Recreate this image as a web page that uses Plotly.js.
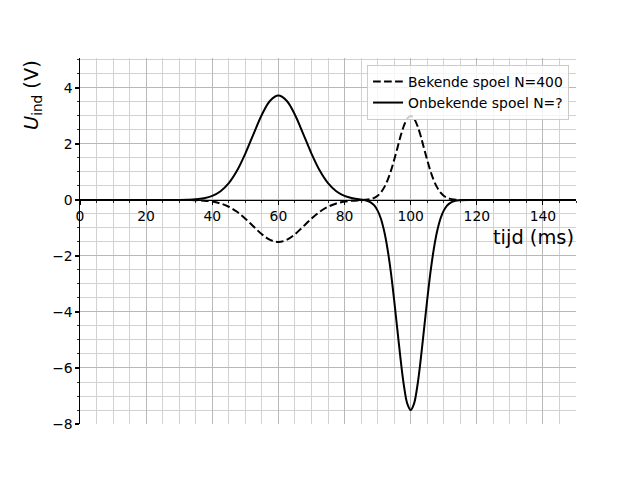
<!DOCTYPE html>
<html>
<head>
<meta charset="utf-8">
<script src="https://cdn.plot.ly/plotly-3.0.1.min.js"></script>
<style>html,body{margin:0;padding:0;background:#fff;}#chart{width:640px;height:480px;}</style>
</head>
<body>
<div id="chart"></div>
<script>
// time (ms)
const tijd = [0, 10, 20, 25, 30, 32.5, 35, 37.5, 40, 42.5, 45, 47.5, 50, 52.5, 55, 57.5, 60,
  62.5, 65, 67.5, 70, 72.5, 75, 77.5, 80, 82.5, 85,
  86, 87, 88, 89, 90, 91, 92, 93, 94, 95, 96, 97, 98, 99, 100,
  101, 102, 103, 104, 105, 106, 107, 108, 109, 110, 111, 112, 113, 114, 115,
  117.5, 120, 130, 140, 150];

// Bekende spoel N=400 (dashed)
const bekende = [0, 0, 0, 0, -0.001, -0.003, -0.009, -0.025, -0.058, -0.125, -0.242, -0.422, -0.666, -0.95, -1.224, -1.426, -1.5,
  -1.426, -1.224, -0.95, -0.666, -0.422, -0.242, -0.125, -0.058, -0.025, -0.009,
  0.004, 0.016, 0.037, 0.078, 0.15, 0.27, 0.45, 0.70, 1.03, 1.43, 1.86, 2.30, 2.66, 2.91, 3.0,
  2.91, 2.66, 2.30, 1.86, 1.43, 1.03, 0.70, 0.45, 0.27, 0.15, 0.08, 0.04, 0.02, 0.01, 0,
  0, 0, 0, 0, 0];

// Onbekende spoel N=? (solid)
const onbekende = [0, 0, 0, 0, 0.0025, 0.008, 0.023, 0.061, 0.145, 0.311, 0.601, 1.05, 1.657, 2.363, 3.045, 3.545, 3.73,
  3.545, 3.045, 2.363, 1.657, 1.05, 0.601, 0.311, 0.145, 0.061, 0.013,
  -0.005, -0.04, -0.094, -0.196, -0.38, -0.67, -1.12, -1.75, -2.57, -3.57, -4.66, -5.74, -6.66, -7.28, -7.5,
  -7.28, -6.66, -5.74, -4.66, -3.57, -2.57, -1.75, -1.12, -0.67, -0.38, -0.20, -0.10, -0.05, -0.02, -0.01,
  0, 0, 0, 0, 0];

const labels = ['Bekende spoel N=400', 'Onbekende spoel N=?'];
const xTitle = 'tijd (ms)';
const yTitle = '<i>U</i><sub>ind</sub> (V)';

const FONT = 'DejaVu Sans, sans-serif';
const yMin = -8, yMax = 5.07;
const zeroPos = (0 - yMin) / (yMax - yMin);

const traces = [
  {x: tijd, y: bekende, name: labels[0], mode: 'lines', type: 'scatter',
   line: {color: 'black', width: 2, dash: '7.7px,3.3px', shape: 'spline', smoothing: 1}},
  {x: tijd, y: onbekende, name: labels[1], mode: 'lines', type: 'scatter',
   line: {color: 'black', width: 2, shape: 'spline', smoothing: 1}}
];

const layout = {
  width: 640, height: 480,
  margin: {l: 80, r: 64, t: 58, b: 56},
  paper_bgcolor: 'white', plot_bgcolor: 'white',
  font: {family: FONT, size: 13.9, color: 'black'},
  showlegend: true,
  legend: {x: 0.986, y: 0.981, xanchor: 'right', yanchor: 'top',
    bgcolor: 'rgba(255,255,255,0.8)', bordercolor: '#cccccc', borderwidth: 1,
    tracegroupgap: 0,
    font: {family: FONT, size: 13.9, color: 'black'}},
  xaxis: {
    range: [0, 150], tick0: 0, dtick: 20,
    anchor: 'free', position: zeroPos,
    showline: true, linecolor: 'black', linewidth: 1.1,
    ticks: 'outside', ticklen: 3.5, tickwidth: 1.1, tickcolor: 'black',
    showgrid: true, gridcolor: '#b8b8b8', gridwidth: 1,
    zeroline: false,
    minor: {dtick: 5, tick0: 0, ticks: 'outside', ticklen: 2, tickwidth: 0.8, tickcolor: 'black',
            showgrid: true, gridcolor: '#d2d2d2', gridwidth: 1},
    tickfont: {family: FONT, size: 13.9, color: 'black'}
  },
  yaxis: {
    range: [yMin, yMax], tick0: 0, dtick: 2,
    showline: true, linecolor: 'black', linewidth: 1.1,
    ticks: 'outside', ticklen: 3.5, tickwidth: 1.1, tickcolor: 'black',
    showgrid: true, gridcolor: '#b8b8b8', gridwidth: 1,
    zeroline: false,
    minor: {dtick: 0.5, tick0: 0, ticks: 'outside', ticklen: 2, tickwidth: 0.8, tickcolor: 'black',
            showgrid: true, gridcolor: '#d2d2d2', gridwidth: 1},
    tickfont: {family: FONT, size: 13.9, color: 'black'}
  },
  annotations: [
    {text: xTitle, xref: 'paper', yref: 'paper', x: 1.0, y: zeroPos - 0.103,
     xanchor: 'right', yanchor: 'middle', showarrow: false,
     font: {family: FONT, size: 19.4, color: 'black'}},
    {text: yTitle, xref: 'paper', yref: 'paper', x: (32 - 80) / 496, y: 1.0,
     xanchor: 'center', yanchor: 'top', textangle: -90, showarrow: false,
     font: {family: FONT, size: 19.4, color: 'black'}}
  ]
};

Plotly.newPlot('chart', traces, layout, {displayModeBar: false, staticPlot: true});
</script>
</body>
</html>
